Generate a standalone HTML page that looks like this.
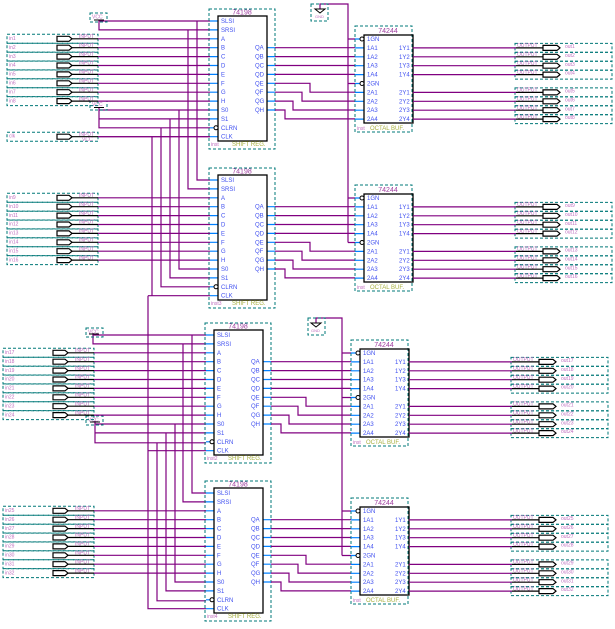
<!DOCTYPE html>
<html><head><meta charset="utf-8"><style>
html,body{margin:0;padding:0;background:#fff;}
svg{display:block;font-family:"Liberation Sans",sans-serif;}
.d{fill:none;stroke:#007878;stroke-width:1;stroke-dasharray:3,2;}
.w{fill:none;stroke:#800080;stroke-width:1.2;}
.bl{fill:none;stroke:#0080ff;stroke-width:1.2;}
.k{fill:none;stroke:#000;stroke-width:1.3;}
.s{font-size:5px;fill:#c070c0;}
.p{font-size:6px;fill:#4050f0;}
.t{font-size:7px;fill:#a040a0;text-anchor:middle;}
.g{font-size:6px;fill:#a8b040;}
</style></head><body>
<svg width="615" height="629" viewBox="0 0 615 629" xmlns="http://www.w3.org/2000/svg">
<defs>
<g id="ir"><rect x="7" y="-4.5" width="91" height="9" class="d"/><polygon points="57,-2.5 69,-2.5 72,0 69,2.5 57,2.5" fill="#fff" stroke="#000" stroke-width="1.2"/><path d="M72 0H98" stroke="#000" stroke-width="1.2"/><path d="M98 0H210" class="w"/></g>
<g id="or"><rect x="515" y="-4.5" width="97" height="9" class="d"/><path d="M413 0H516" class="w"/><path d="M516 0H543" stroke="#000" stroke-width="1.2"/><polygon points="543,-2.5 557,-2.5 560,0 557,2.5 543,2.5" fill="#fff" stroke="#000" stroke-width="1.2"/></g>
<g id="chips">
<rect x="209" y="-12" width="66" height="140" class="d"/>
<path class="bl" d="M210 0h8M210 8.9h8M210 17.8h8M210 26.7h8M210 35.6h8M210 44.5h8M210 53.4h8M210 62.3h8M210 71.2h8M210 80.1h8M210 89h8M210 97.9h8M210 106.8h8M210 115.7h8M267 26.7h8M267 35.6h8M267 44.5h8M267 53.4h8M267 62.3h8M267 71.2h8M267 80.1h8M267 89h8"/>
<rect x="218" y="-5" width="49" height="125" class="k" fill="#fff"/>
<circle cx="216" cy="106.8" r="2" fill="#fff" stroke="#000"/>
<path class="w" d="M275 26.7H355M275 35.6H355M275 44.5H355M275 53.4H355M275 62.3H310V71.2H355M275 71.2H302V80.1H355M275 80.1H293V89H355M275 89H285V97.9H355"/>
<rect x="355" y="5" width="57" height="106" class="d"/>
<path class="bl" d="M355 18h9M355 26.9h9M355 35.8h9M355 44.7h9M355 53.6h9M355 62.5h9M355 71.4h9M355 80.3h9M355 89.2h9M355 98.1h9"/>
<rect x="364" y="14" width="49" height="88" class="k" fill="none"/>
<circle cx="362" cy="18" r="2" fill="#fff" stroke="#000"/>
<circle cx="362" cy="62.5" r="2" fill="#fff" stroke="#000"/>
<use href="#or" y="26.9"/><use href="#or" y="35.8"/><use href="#or" y="44.7"/><use href="#or" y="53.6"/>
<use href="#or" y="71.4"/><use href="#or" y="80.3"/><use href="#or" y="89.2"/><use href="#or" y="98.1"/>
<use href="#ir" y="17.8"/><use href="#ir" y="26.7"/><use href="#ir" y="35.6"/><use href="#ir" y="44.5"/>
<use href="#ir" y="53.4"/><use href="#ir" y="62.3"/><use href="#ir" y="71.2"/><use href="#ir" y="80.1"/>
</g>
</defs>

<path class="w" d="M99 20V29.9H210M99 21H210M99 107V127.8H210M99 110H210M99 118.9H210M98 136.7H210
M197 21V180H210M188 29.9V188.9H210M179 110V269H210M170 118.9V277.9H210M161 127.8V286.8H210M152 136.7V295.7H210M148 295.7H152M148 295.7V608.7H206
M93 333V343.9H206M93 335H206M95 421V442.8H206M95 424H206M95 432.9H206M148 450.7H206
M192 335V493H206M183 343.9V501.9H206M175 424V582H206M166 432.9V590.9H206M157 442.8V600.8H206"/>
<path class="w" d="M320 9V4H348V242.5M348 39H355M348 83.5H355M348 198H355M348 242.5H355
M316 323V318H342V555.5M342 353H351M342 397.5H351M342 511H351M342 555.5H351"/>
<rect x="90" y="13" width="17" height="9" class="d"/><text x="92" y="18.5" class="s">VCC</text><path d="M94 20H104" stroke="#000"/>
<rect x="90" y="101" width="17" height="9" class="d"/><text x="92" y="106" class="s">VCC</text><path d="M94 107.5H104" stroke="#000"/>
<rect x="86" y="328" width="17" height="9" class="d"/><text x="88" y="333.5" class="s">VCC</text><path d="M89 334H99" stroke="#000"/>
<rect x="86" y="416" width="17" height="9" class="d"/><text x="88" y="421.5" class="s">VCC</text><path d="M90 422H100" stroke="#000"/>
<rect x="311" y="4" width="17" height="17" class="d"/><polygon points="315,9 325,9 320,13" fill="#fff" stroke="#000"/><text x="315" y="18" class="s" style="font-size:4px">GND</text>
<rect x="308" y="318" width="17" height="17" class="d"/><polygon points="311,323 321,323 316,327" fill="#fff" stroke="#000"/><text x="311" y="332" class="s" style="font-size:4px">GND</text>
<use href="#ir" y="136.7"/>
<text x="9" y="137.5" class="s">clk</text><text x="79" y="135.9" class="s">INPUT</text><text x="82" y="140.9" class="s">VCC</text>

<g transform="translate(0,21)">
<use href="#chips"/>
<text x="242" y="-6.5" class="t">74198</text>
<text x="221" y="2" class="p">SLSI</text><text x="221" y="10.9" class="p">SRSI</text><text x="221" y="19.8" class="p">A</text><text x="221" y="28.7" class="p">B</text><text x="221" y="37.6" class="p">C</text><text x="221" y="46.5" class="p">D</text><text x="221" y="55.4" class="p">E</text><text x="221" y="64.3" class="p">F</text><text x="221" y="73.2" class="p">G</text><text x="221" y="82.1" class="p">H</text><text x="221" y="91" class="p">S0</text><text x="221" y="99.9" class="p">S1</text><text x="221" y="108.8" class="p">CLRN</text><text x="221" y="117.7" class="p">CLK</text>
<text x="255" y="28.7" class="p">QA</text><text x="255" y="37.6" class="p">QB</text><text x="255" y="46.5" class="p">QC</text><text x="255" y="55.4" class="p">QD</text><text x="255" y="64.3" class="p">QE</text><text x="255" y="73.2" class="p">QF</text><text x="255" y="82.1" class="p">QG</text><text x="255" y="91" class="p">QH</text>
<text x="211" y="125" class="s">inst</text><text x="232" y="125" class="g">SHIFT REG.</text>
<text x="388" y="12" class="t">74244</text>
<text x="367" y="20" class="p">1GN</text><text x="367" y="28.9" class="p">1A1</text><text x="367" y="37.8" class="p">1A2</text><text x="367" y="46.7" class="p">1A3</text><text x="367" y="55.6" class="p">1A4</text><text x="367" y="64.5" class="p">2GN</text><text x="367" y="73.4" class="p">2A1</text><text x="367" y="82.3" class="p">2A2</text><text x="367" y="91.2" class="p">2A3</text><text x="367" y="100.1" class="p">2A4</text>
<text x="399" y="28.9" class="p">1Y1</text><text x="399" y="37.8" class="p">1Y2</text><text x="399" y="46.7" class="p">1Y3</text><text x="399" y="55.6" class="p">1Y4</text><text x="399" y="73.4" class="p">2Y1</text><text x="399" y="82.3" class="p">2Y2</text><text x="399" y="91.2" class="p">2Y3</text><text x="399" y="100.1" class="p">2Y4</text>
<text x="357" y="109" class="s">inst</text><text x="370" y="109" class="g">OCTAL BUF.</text>
<text x="9" y="19" class="s">in1</text><text x="9" y="27.9" class="s">in2</text><text x="9" y="36.8" class="s">in3</text><text x="9" y="45.7" class="s">in4</text><text x="9" y="54.6" class="s">in5</text><text x="9" y="63.5" class="s">in6</text><text x="9" y="72.4" class="s">in7</text><text x="9" y="81.3" class="s">in8</text>
<text x="79" y="17" class="s">INPUT</text><text x="79" y="25.9" class="s">INPUT</text><text x="79" y="34.8" class="s">INPUT</text><text x="79" y="43.7" class="s">INPUT</text><text x="79" y="52.6" class="s">INPUT</text><text x="79" y="61.5" class="s">INPUT</text><text x="79" y="70.4" class="s">INPUT</text><text x="79" y="79.3" class="s">INPUT</text>
<text x="517" y="26.1" class="s">OUTPUT</text><text x="517" y="35" class="s">OUTPUT</text><text x="517" y="43.9" class="s">OUTPUT</text><text x="517" y="52.8" class="s">OUTPUT</text><text x="517" y="70.6" class="s">OUTPUT</text><text x="517" y="79.5" class="s">OUTPUT</text><text x="517" y="88.4" class="s">OUTPUT</text><text x="517" y="97.3" class="s">OUTPUT</text>
<text x="565" y="27" class="s">out1</text><text x="565" y="35.9" class="s">out2</text><text x="565" y="44.8" class="s">out3</text><text x="565" y="53.7" class="s">out4</text><text x="565" y="71.5" class="s">out5</text><text x="565" y="80.4" class="s">out6</text><text x="565" y="89.3" class="s">out7</text><text x="565" y="98.2" class="s">out8</text>
</g>

<g transform="translate(0,180)">
<use href="#chips"/>
<text x="242" y="-6.5" class="t">74198</text>
<text x="221" y="2" class="p">SLSI</text><text x="221" y="10.9" class="p">SRSI</text><text x="221" y="19.8" class="p">A</text><text x="221" y="28.7" class="p">B</text><text x="221" y="37.6" class="p">C</text><text x="221" y="46.5" class="p">D</text><text x="221" y="55.4" class="p">E</text><text x="221" y="64.3" class="p">F</text><text x="221" y="73.2" class="p">G</text><text x="221" y="82.1" class="p">H</text><text x="221" y="91" class="p">S0</text><text x="221" y="99.9" class="p">S1</text><text x="221" y="108.8" class="p">CLRN</text><text x="221" y="117.7" class="p">CLK</text>
<text x="255" y="28.7" class="p">QA</text><text x="255" y="37.6" class="p">QB</text><text x="255" y="46.5" class="p">QC</text><text x="255" y="55.4" class="p">QD</text><text x="255" y="64.3" class="p">QE</text><text x="255" y="73.2" class="p">QF</text><text x="255" y="82.1" class="p">QG</text><text x="255" y="91" class="p">QH</text>
<text x="211" y="125" class="s">inst3</text><text x="232" y="125" class="g">SHIFT REG.</text>
<text x="388" y="12" class="t">74244</text>
<text x="367" y="20" class="p">1GN</text><text x="367" y="28.9" class="p">1A1</text><text x="367" y="37.8" class="p">1A2</text><text x="367" y="46.7" class="p">1A3</text><text x="367" y="55.6" class="p">1A4</text><text x="367" y="64.5" class="p">2GN</text><text x="367" y="73.4" class="p">2A1</text><text x="367" y="82.3" class="p">2A2</text><text x="367" y="91.2" class="p">2A3</text><text x="367" y="100.1" class="p">2A4</text>
<text x="399" y="28.9" class="p">1Y1</text><text x="399" y="37.8" class="p">1Y2</text><text x="399" y="46.7" class="p">1Y3</text><text x="399" y="55.6" class="p">1Y4</text><text x="399" y="73.4" class="p">2Y1</text><text x="399" y="82.3" class="p">2Y2</text><text x="399" y="91.2" class="p">2Y3</text><text x="399" y="100.1" class="p">2Y4</text>
<text x="357" y="109" class="s">inst</text><text x="370" y="109" class="g">OCTAL BUF.</text>
<text x="9" y="19" class="s">in9</text><text x="9" y="27.9" class="s">in10</text><text x="9" y="36.8" class="s">in11</text><text x="9" y="45.7" class="s">in12</text><text x="9" y="54.6" class="s">in13</text><text x="9" y="63.5" class="s">in14</text><text x="9" y="72.4" class="s">in15</text><text x="9" y="81.3" class="s">in16</text>
<text x="79" y="17" class="s">INPUT</text><text x="79" y="25.9" class="s">INPUT</text><text x="79" y="34.8" class="s">INPUT</text><text x="79" y="43.7" class="s">INPUT</text><text x="79" y="52.6" class="s">INPUT</text><text x="79" y="61.5" class="s">INPUT</text><text x="79" y="70.4" class="s">INPUT</text><text x="79" y="79.3" class="s">INPUT</text>
<text x="517" y="26.1" class="s">OUTPUT</text><text x="517" y="35" class="s">OUTPUT</text><text x="517" y="43.9" class="s">OUTPUT</text><text x="517" y="52.8" class="s">OUTPUT</text><text x="517" y="70.6" class="s">OUTPUT</text><text x="517" y="79.5" class="s">OUTPUT</text><text x="517" y="88.4" class="s">OUTPUT</text><text x="517" y="97.3" class="s">OUTPUT</text>
<text x="565" y="27" class="s">out9</text><text x="565" y="35.9" class="s">out10</text><text x="565" y="44.8" class="s">out11</text><text x="565" y="53.7" class="s">out12</text><text x="565" y="71.5" class="s">out13</text><text x="565" y="80.4" class="s">out14</text><text x="565" y="89.3" class="s">out15</text><text x="565" y="98.2" class="s">out16</text>
</g>

<g transform="translate(-4,335)">
<use href="#chips"/>
<text x="242" y="-6.5" class="t">74198</text>
<text x="221" y="2" class="p">SLSI</text><text x="221" y="10.9" class="p">SRSI</text><text x="221" y="19.8" class="p">A</text><text x="221" y="28.7" class="p">B</text><text x="221" y="37.6" class="p">C</text><text x="221" y="46.5" class="p">D</text><text x="221" y="55.4" class="p">E</text><text x="221" y="64.3" class="p">F</text><text x="221" y="73.2" class="p">G</text><text x="221" y="82.1" class="p">H</text><text x="221" y="91" class="p">S0</text><text x="221" y="99.9" class="p">S1</text><text x="221" y="108.8" class="p">CLRN</text><text x="221" y="117.7" class="p">CLK</text>
<text x="255" y="28.7" class="p">QA</text><text x="255" y="37.6" class="p">QB</text><text x="255" y="46.5" class="p">QC</text><text x="255" y="55.4" class="p">QD</text><text x="255" y="64.3" class="p">QE</text><text x="255" y="73.2" class="p">QF</text><text x="255" y="82.1" class="p">QG</text><text x="255" y="91" class="p">QH</text>
<text x="211" y="125" class="s">inst2</text><text x="232" y="125" class="g">SHIFT REG.</text>
<text x="388" y="12" class="t">74244</text>
<text x="367" y="20" class="p">1GN</text><text x="367" y="28.9" class="p">1A1</text><text x="367" y="37.8" class="p">1A2</text><text x="367" y="46.7" class="p">1A3</text><text x="367" y="55.6" class="p">1A4</text><text x="367" y="64.5" class="p">2GN</text><text x="367" y="73.4" class="p">2A1</text><text x="367" y="82.3" class="p">2A2</text><text x="367" y="91.2" class="p">2A3</text><text x="367" y="100.1" class="p">2A4</text>
<text x="399" y="28.9" class="p">1Y1</text><text x="399" y="37.8" class="p">1Y2</text><text x="399" y="46.7" class="p">1Y3</text><text x="399" y="55.6" class="p">1Y4</text><text x="399" y="73.4" class="p">2Y1</text><text x="399" y="82.3" class="p">2Y2</text><text x="399" y="91.2" class="p">2Y3</text><text x="399" y="100.1" class="p">2Y4</text>
<text x="357" y="109" class="s">inst</text><text x="370" y="109" class="g">OCTAL BUF.</text>
<text x="9" y="19" class="s">in17</text><text x="9" y="27.9" class="s">in18</text><text x="9" y="36.8" class="s">in19</text><text x="9" y="45.7" class="s">in20</text><text x="9" y="54.6" class="s">in21</text><text x="9" y="63.5" class="s">in22</text><text x="9" y="72.4" class="s">in23</text><text x="9" y="81.3" class="s">in24</text>
<text x="79" y="17" class="s">INPUT</text><text x="79" y="25.9" class="s">INPUT</text><text x="79" y="34.8" class="s">INPUT</text><text x="79" y="43.7" class="s">INPUT</text><text x="79" y="52.6" class="s">INPUT</text><text x="79" y="61.5" class="s">INPUT</text><text x="79" y="70.4" class="s">INPUT</text><text x="79" y="79.3" class="s">INPUT</text>
<text x="517" y="26.1" class="s">OUTPUT</text><text x="517" y="35" class="s">OUTPUT</text><text x="517" y="43.9" class="s">OUTPUT</text><text x="517" y="52.8" class="s">OUTPUT</text><text x="517" y="70.6" class="s">OUTPUT</text><text x="517" y="79.5" class="s">OUTPUT</text><text x="517" y="88.4" class="s">OUTPUT</text><text x="517" y="97.3" class="s">OUTPUT</text>
<text x="565" y="27" class="s">out17</text><text x="565" y="35.9" class="s">out18</text><text x="565" y="44.8" class="s">out19</text><text x="565" y="53.7" class="s">out20</text><text x="565" y="71.5" class="s">out21</text><text x="565" y="80.4" class="s">out22</text><text x="565" y="89.3" class="s">out23</text><text x="565" y="98.2" class="s">out24</text>
</g>

<g transform="translate(-4,493)">
<use href="#chips"/>
<text x="242" y="-6.5" class="t">74198</text>
<text x="221" y="2" class="p">SLSI</text><text x="221" y="10.9" class="p">SRSI</text><text x="221" y="19.8" class="p">A</text><text x="221" y="28.7" class="p">B</text><text x="221" y="37.6" class="p">C</text><text x="221" y="46.5" class="p">D</text><text x="221" y="55.4" class="p">E</text><text x="221" y="64.3" class="p">F</text><text x="221" y="73.2" class="p">G</text><text x="221" y="82.1" class="p">H</text><text x="221" y="91" class="p">S0</text><text x="221" y="99.9" class="p">S1</text><text x="221" y="108.8" class="p">CLRN</text><text x="221" y="117.7" class="p">CLK</text>
<text x="255" y="28.7" class="p">QA</text><text x="255" y="37.6" class="p">QB</text><text x="255" y="46.5" class="p">QC</text><text x="255" y="55.4" class="p">QD</text><text x="255" y="64.3" class="p">QE</text><text x="255" y="73.2" class="p">QF</text><text x="255" y="82.1" class="p">QG</text><text x="255" y="91" class="p">QH</text>
<text x="211" y="125" class="s">inst4</text><text x="232" y="125" class="g">SHIFT REG.</text>
<text x="388" y="12" class="t">74244</text>
<text x="367" y="20" class="p">1GN</text><text x="367" y="28.9" class="p">1A1</text><text x="367" y="37.8" class="p">1A2</text><text x="367" y="46.7" class="p">1A3</text><text x="367" y="55.6" class="p">1A4</text><text x="367" y="64.5" class="p">2GN</text><text x="367" y="73.4" class="p">2A1</text><text x="367" y="82.3" class="p">2A2</text><text x="367" y="91.2" class="p">2A3</text><text x="367" y="100.1" class="p">2A4</text>
<text x="399" y="28.9" class="p">1Y1</text><text x="399" y="37.8" class="p">1Y2</text><text x="399" y="46.7" class="p">1Y3</text><text x="399" y="55.6" class="p">1Y4</text><text x="399" y="73.4" class="p">2Y1</text><text x="399" y="82.3" class="p">2Y2</text><text x="399" y="91.2" class="p">2Y3</text><text x="399" y="100.1" class="p">2Y4</text>
<text x="357" y="109" class="s">inst</text><text x="370" y="109" class="g">OCTAL BUF.</text>
<text x="9" y="19" class="s">in25</text><text x="9" y="27.9" class="s">in26</text><text x="9" y="36.8" class="s">in27</text><text x="9" y="45.7" class="s">in28</text><text x="9" y="54.6" class="s">in29</text><text x="9" y="63.5" class="s">in30</text><text x="9" y="72.4" class="s">in31</text><text x="9" y="81.3" class="s">in32</text>
<text x="79" y="17" class="s">INPUT</text><text x="79" y="25.9" class="s">INPUT</text><text x="79" y="34.8" class="s">INPUT</text><text x="79" y="43.7" class="s">INPUT</text><text x="79" y="52.6" class="s">INPUT</text><text x="79" y="61.5" class="s">INPUT</text><text x="79" y="70.4" class="s">INPUT</text><text x="79" y="79.3" class="s">INPUT</text>
<text x="517" y="26.1" class="s">OUTPUT</text><text x="517" y="35" class="s">OUTPUT</text><text x="517" y="43.9" class="s">OUTPUT</text><text x="517" y="52.8" class="s">OUTPUT</text><text x="517" y="70.6" class="s">OUTPUT</text><text x="517" y="79.5" class="s">OUTPUT</text><text x="517" y="88.4" class="s">OUTPUT</text><text x="517" y="97.3" class="s">OUTPUT</text>
<text x="565" y="27" class="s">out25</text><text x="565" y="35.9" class="s">out26</text><text x="565" y="44.8" class="s">out27</text><text x="565" y="53.7" class="s">out28</text><text x="565" y="71.5" class="s">out29</text><text x="565" y="80.4" class="s">out30</text><text x="565" y="89.3" class="s">out31</text><text x="565" y="98.2" class="s">out32</text>
</g>
</svg>
</body></html>
